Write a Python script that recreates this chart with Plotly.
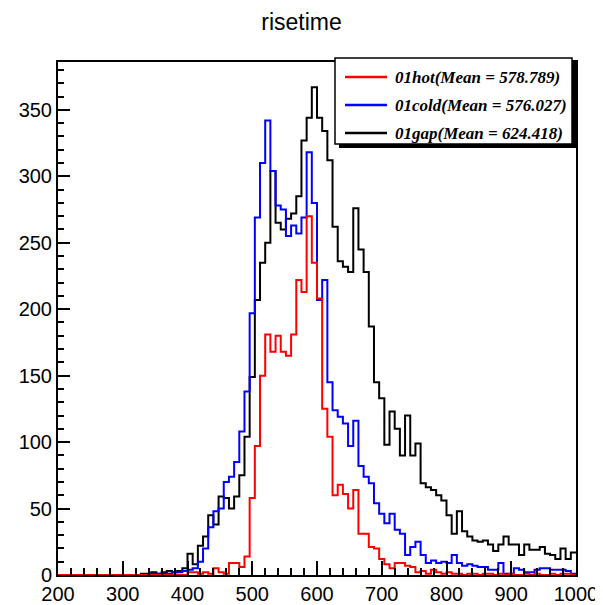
import numpy as np
import plotly.graph_objects as go

# ---------------- data ----------------
BIN_LOW = 200
BIN_WIDTH = 8
N_BINS = 100

hot = [0]*25 + [
    2, 2, 1, 2, 1, 5, 2, 1, 9, 9,            # 400..472
    6, 14, 58, 97, 150, 181, 168, 180, 168, 165,   # 480..552
    181, 222, 213, 270, 235, 208, 125, 104, 60, 68,  # 560..632
    61, 50, 64, 31, 31, 21, 20, 12, 8, 5,     # 640..712
    9, 9, 7, 6, 2, 3, 1, 4, 2, 1,             # 720..792
    2, 1, 1, 0, 1, 1, 0, 1, 1, 0,             # 800..872
    1, 0, 1, 0, 0, 1, 0, 1, 0, 0,             # 880..952
    1, 0, 1, 1, 0                             # 960..992
]

cold = [0]*18 + [
    1, 1, 1, 1, 2, 2, 3,                      # 344..392
    4, 5, 10, 20, 36, 48, 50, 70, 74, 85,     # 400..472
    108, 138, 197, 269, 310, 342, 304, 278, 275, 255,  # 480..552
    263, 257, 269, 318, 280, 207, 222, 145, 124, 119,  # 560..632
    114, 97, 116, 82, 74, 69, 54, 46, 39, 46,  # 640..712
    34, 31, 15, 21, 25, 15, 9, 11, 9, 10,     # 720..792
    9, 15, 9, 7, 8, 7, 6, 6, 4, 4,            # 800..872
    9, 1, 1, 5, 4, 2, 2, 4, 5, 5,             # 880..952
    4, 4, 4, 3, 1                             # 960..992
]

gap = [0]*16 + [
    1, 1, 2, 1, 2, 3, 2, 3, 5,                # 328..392
    16, 8, 22, 29, 45, 38, 59, 58, 50, 59,    # 400..472
    75, 104, 149, 207, 235, 250, 304, 265, 260, 268,  # 480..552
    272, 285, 327, 344, 367, 344, 334, 312, 262, 236,  # 560..632
    232, 228, 276, 245, 228, 187, 145, 133, 98, 123,   # 640..712
    110, 90, 120, 90, 99, 69, 66, 64, 60, 56,  # 720..792
    45, 31, 48, 33, 29, 26, 25, 26, 23, 18,   # 800..872
    23, 29, 23, 23, 15, 23, 19, 19, 21, 16,   # 880..952
    15, 12, 20, 12, 17                        # 960..992
]

names = ["01hot", "01cold", "01gap"]
means = ["578.789", "576.027", "624.418"]
colors = ["#ff0000", "#0000ff", "#000000"]
series = [hot, cold, gap]

x_ticks = [200, 300, 400, 500, 600, 700, 800, 900, 1000]
y_ticks = [0, 50, 100, 150, 200, 250, 300, 350]
title = "risetime"

# ---------------- figure ----------------
PAGE_W, PAGE_H = 603, 605
OFF = 8                       # page body margin offset
W, H = PAGE_W - OFF, PAGE_H - OFF
L, R, T, B = 58, 576, 62, 575  # plot frame in page pixels

edges = BIN_LOW + BIN_WIDTH * np.arange(N_BINS + 1)

fig = go.Figure()
# draw black first, then blue, then red on top
for idx in [2, 1, 0]:
    vals = np.array(series[idx], dtype=float)
    assert len(vals) == N_BINS, (names[idx], len(vals))
    fig.add_trace(go.Scatter(
        x=edges, y=np.append(vals, vals[-1]),
        mode="lines", line=dict(shape="hv", width=2, color=colors[idx]),
        showlegend=False, hoverinfo="skip"))

def px(xp):
    return (xp - L) / (R - L)

def py(yp):
    return (B - yp) / (B - T)

shapes = []
# legend shadow + box
shapes.append(dict(type="rect", xref="paper", yref="paper",
                   x0=px(339), x1=px(576), y0=py(148), y1=py(62),
                   fillcolor="black", line=dict(width=0), layer="above"))
shapes.append(dict(type="rect", xref="paper", yref="paper",
                   x0=px(335), x1=px(572), y0=py(144), y1=py(58),
                   fillcolor="white", line=dict(color="black", width=1.5), layer="above"))
annotations = []
row_y = [77, 105, 133]
for i in range(3):
    shapes.append(dict(type="line", xref="paper", yref="paper",
                       x0=px(345), x1=px(387), y0=py(row_y[i]), y1=py(row_y[i]),
                       line=dict(color=colors[i], width=2.5), layer="above"))
    annotations.append(dict(xref="paper", yref="paper", x=px(393), y=py(row_y[i]),
                            xanchor="left", yanchor="middle", showarrow=False,
                            text="<b><i>%s(Mean = %s)</i></b>" % (names[i], means[i]),
                            font=dict(family="Liberation Serif", size=17, color="black")))

axis_common = dict(showline=True, linecolor="black", linewidth=2, mirror=True,
                   showgrid=False, zeroline=False, ticks="inside", tickcolor="black",
                   tickwidth=1.5, automargin=False,
                   tickfont=dict(family="Liberation Sans", size=20, color="black"))

fig.update_layout(
    width=W, height=H,
    margin=dict(l=L - OFF, r=PAGE_W - R, t=T - OFF, b=PAGE_H - B),
    paper_bgcolor="white", plot_bgcolor="white",
    title=dict(text=title, x=(PAGE_W / 2 - OFF) / W, xanchor="center",
               y=1 - (22 - OFF) / H, yanchor="middle",
               font=dict(family="Liberation Sans", size=23, color="black")),
    xaxis=dict(range=[200, 1000], tickvals=x_ticks, ticktext=[str(v) for v in x_ticks],
               ticklen=14, minor=dict(ticks="inside", dtick=20, tick0=200, ticklen=7,
                                      tickcolor="black", tickwidth=1.5),
               **axis_common),
    yaxis=dict(range=[0, 386], tickvals=y_ticks, ticktext=[str(v) for v in y_ticks],
               ticklen=12, minor=dict(ticks="inside", dtick=10, tick0=0, ticklen=6,
                                      tickcolor="black", tickwidth=1.5),
               **axis_common),
    shapes=shapes, annotations=annotations,
)

fig.write_html("out.html")
